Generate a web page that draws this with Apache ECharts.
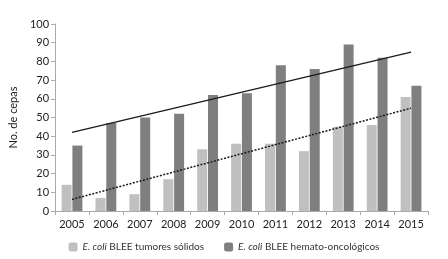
<!DOCTYPE html>
<html>
<head>
<meta charset="utf-8">
<script src="https://cdn.jsdelivr.net/npm/echarts@6/dist/echarts.min.js"></script>
<style>html,body{margin:0;padding:0;background:#fff}#c{width:448px;height:259px}</style>
</head>
<body>
<div id="c"></div>
<script>
const years = ['2005','2006','2007','2008','2009','2010','2011','2012','2013','2014','2015'];
const solidos = [14, 7, 9, 17, 33, 36, 36, 32, 45, 46, 61];
const hemato = [35, 47, 50, 52, 62, 63, 78, 76, 89, 82, 67];
const trendHemato = [42, null, null, null, null, null, null, null, null, null, 85];
const trendSolidos = [6.2, null, null, null, null, null, null, null, null, null, 55];
const yTicks = {min: 0, max: 100, interval: 10};
const seriesNames = ['E. coli BLEE tumores sólidos', 'E. coli BLEE hemato-oncológicos'];

const FONT = 'Lato';
const chart = echarts.init(document.getElementById('c'), null, {renderer: 'canvas'});
chart.setOption({
  animation: false,
  backgroundColor: '#fff',
  textStyle: {fontFamily: FONT},
  grid: {left: 42, right: 20, top: 24, bottom: 48},
  legend: {
    bottom: 2, left: 'center',
    itemWidth: 9, itemHeight: 9, itemGap: 20,
    data: seriesNames,
    formatter: function (name) {
      return '{i|E. coli} {n|' + name.replace('E. coli ', '') + '}';
    },
    textStyle: {
      fontFamily: FONT, fontSize: 10, color: '#333',
      rich: {
        i: {fontStyle: 'italic', fontFamily: FONT, fontSize: 10, color: '#333'},
        n: {fontFamily: FONT, fontSize: 10, color: '#333'}
      }
    }
  },
  xAxis: {
    type: 'category', data: years,
    axisLine: {lineStyle: {color: '#aaa', width: 1}},
    axisTick: {show: true, alignWithLabel: false, length: 4, lineStyle: {color: '#aaa'}},
    axisLabel: {color: '#222', fontSize: 11, margin: 8, fontFamily: FONT}
  },
  yAxis: {
    type: 'value', min: yTicks.min, max: yTicks.max, interval: yTicks.interval,
    name: 'No. de cepas', nameLocation: 'middle', nameGap: 25,
    nameTextStyle: {color: '#222', fontSize: 11, fontFamily: FONT},
    axisLine: {show: true, lineStyle: {color: '#aaa', width: 1}},
    axisTick: {show: true, length: 4, lineStyle: {color: '#aaa'}},
    axisLabel: {color: '#222', fontSize: 11, margin: 6, fontFamily: FONT},
    splitLine: {show: false}
  },
  series: [
    {name: seriesNames[0], type: 'bar', data: solidos, barWidth: 10, barGap: '8%',
     itemStyle: {color: '#c0c0c0'}},
    {name: seriesNames[1], type: 'bar', data: hemato, barWidth: 10,
     itemStyle: {color: '#7f7f7f'}},
    {name: 'trend1', type: 'line', data: trendHemato, connectNulls: true, symbol: 'none',
     lineStyle: {color: '#1a1a1a', width: 1.3, type: 'solid'}, z: 5},
    {name: 'trend2', type: 'line', data: trendSolidos, connectNulls: true, symbol: 'none',
     lineStyle: {color: '#1a1a1a', width: 1.5, type: [2, 1.5]}, z: 5}
  ]
});
</script>
</body>
</html>
